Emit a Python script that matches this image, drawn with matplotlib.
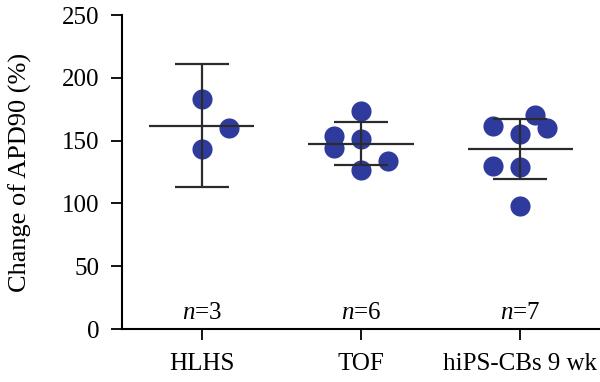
import matplotlib.pyplot as plt
import numpy as np

plt.rcParams['font.family'] = ['Liberation Serif', 'DejaVu Serif']
plt.rcParams['mathtext.fontset'] = 'custom'
plt.rcParams['mathtext.rm'] = 'Liberation Serif'
plt.rcParams['mathtext.it'] = 'Liberation Serif:italic'

groups = ["HLHS", "TOF", "hiPS-CBs 9 wk"]
n_labels = ["3", "6", "7"]

hlhs_vals = [182.8, 160.3, 143.1]
hlhs_dx = [0.0, 0.17, 0.0]
tof_vals = [173.8, 153.7, 144.4, 151.0, 134.1, 126.7]
tof_dx = [0.0, -0.17, -0.17, 0.0, 0.17, 0.0]
hips_vals = [161.7, 170.4, 159.8, 155.3, 129.4, 128.6, 97.6]
hips_dx = [-0.17, 0.09, 0.17, 0.0, -0.17, 0.0, 0.0]

means = [162.0, 147.4, 143.2]
err_hi = [211.0, 164.5, 166.9]
err_lo = [113.0, 130.2, 119.3]

dot_color = "#2f3b9c"
line_color = "#2b2b2b"

fig = plt.figure(figsize=(6, 3.82), dpi=100)
ax = fig.add_axes([0.2033, 0.1387, 0.7967, 0.822])

for i, (vals, dx) in enumerate([(hlhs_vals, hlhs_dx), (tof_vals, tof_dx), (hips_vals, hips_dx)]):
    ax.plot(i + np.array(dx), vals, "o", color=dot_color, markersize=14.5,
            markeredgewidth=0, zorder=2)
    ax.hlines(means[i], i - 0.33, i + 0.33, color=line_color, lw=1.6, zorder=3)
    ax.vlines(i, err_lo[i], err_hi[i], color=line_color, lw=1.6, zorder=3)
    ax.hlines([err_lo[i], err_hi[i]], i - 0.17, i + 0.17, color=line_color, lw=1.6, zorder=3)
    ax.text(i, 13, "$n$=" + n_labels[i], ha="center", va="center", fontsize=18)

ax.set_xlim(-0.5, 2.5)
ax.set_ylim(0, 250)
ax.set_xticks(range(len(groups)))
ax.set_xticklabels(groups, fontsize=18)
ax.set_yticks([0, 50, 100, 150, 200, 250])
ax.tick_params(axis="y", labelsize=18, length=8, width=1.3, pad=8)
ax.tick_params(axis="x", length=8, width=1.3, pad=9)
ax.set_ylabel("Change of APD90 (%)", fontsize=19, labelpad=22)
for s in ["top", "right"]:
    ax.spines[s].set_visible(False)
for s in ["left", "bottom"]:
    ax.spines[s].set_linewidth(1.5)

plt.savefig("out.png", dpi=100)
